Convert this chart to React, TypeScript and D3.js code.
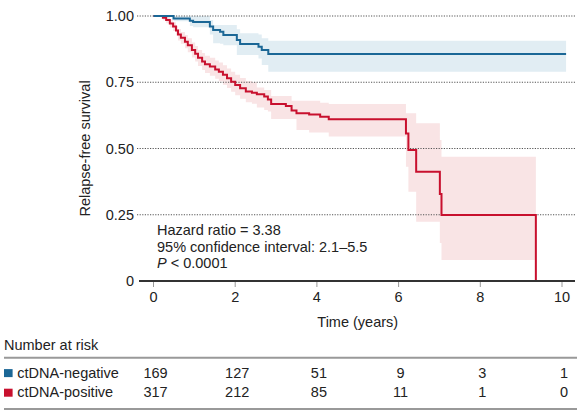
import * as d3 from 'd3';

// ctDNA-negative: step times (years), survival and 95% band
const negTime = [0, 0.49, 0.89, 0.97, 1.38, 1.46, 1.63, 1.71, 2.04, 2.12, 2.57, 2.65, 2.81];
const negSurv = [1, 0.991, 0.982, 0.977, 0.96, 0.947, 0.941, 0.928, 0.909, 0.894, 0.884, 0.872, 0.857];
const negLower = [1, 0.98, 0.962, 0.958, 0.93, 0.897, 0.895, 0.89, 0.853, 0.853, 0.84, 0.815, 0.79];
const negUpper = [1, 1, 1, 1, 0.985, 0.966, 0.966, 0.966, 0.95, 0.935, 0.93, 0.916, 0.907];
const negEnd = 10.1;

// ctDNA-positive
const posTime = [
  0, 0.23, 0.31, 0.4, 0.48, 0.55, 0.6, 0.67, 0.77, 0.84, 0.94, 1.02, 1.09, 1.19, 1.26, 1.38,
  1.51, 1.6, 1.7, 1.8, 1.9, 2.0, 2.12, 2.26, 2.41, 2.53, 2.71, 2.8, 2.88, 3.24, 3.38, 3.5,
  3.81, 4.08, 4.29, 6.18, 6.24, 6.43, 7.01, 7.05,
];
const posSurv = [
  1, 0.993, 0.985, 0.972, 0.96, 0.945, 0.93, 0.918, 0.903, 0.89, 0.872, 0.858, 0.842, 0.828,
  0.818, 0.809, 0.798, 0.79, 0.778, 0.765, 0.752, 0.74, 0.727, 0.715, 0.71, 0.705, 0.696,
  0.685, 0.668, 0.66, 0.643, 0.633, 0.628, 0.62, 0.61, 0.557, 0.494, 0.412, 0.328, 0.249,
];
const posLower = [
  1, 0.984, 0.973, 0.957, 0.943, 0.926, 0.908, 0.895, 0.878, 0.863, 0.843, 0.828, 0.811,
  0.796, 0.785, 0.775, 0.763, 0.754, 0.741, 0.728, 0.714, 0.701, 0.688, 0.675, 0.669, 0.655,
  0.645, 0.64, 0.611, 0.611, 0.611, 0.57, 0.56, 0.56, 0.545, 0.431, 0.337, 0.224, 0.143, 0.079,
];
const posUpper = [
  1, 1, 0.996, 0.986, 0.976, 0.963, 0.951, 0.94, 0.928, 0.916, 0.9, 0.887, 0.872, 0.86, 0.85,
  0.842, 0.832, 0.825, 0.814, 0.802, 0.79, 0.778, 0.766, 0.755, 0.75, 0.73, 0.721, 0.721,
  0.698, 0.698, 0.68, 0.68, 0.68, 0.673, 0.668, 0.633, 0.633, 0.595, 0.532, 0.469,
];
const posEnd = 9.36;

const xTicks = [0, 2, 4, 6, 8, 10];
const yTicks = [0.25, 0.5, 0.75, 1];
const yTickLabels = ['0.25', '0.50', '0.75', '1.00'];

const groups = ['ctDNA-negative', 'ctDNA-positive'];
const negAtRisk = [169, 127, 51, 9, 3, 1];
const posAtRisk = [317, 212, 85, 11, 1, 0];

const BLUE = '#1b6796';
const RED = '#c8102e';
const BLUE_BAND = '#e1edf3';
const RED_BAND = '#f9e4e5';
const FONT = '"Liberation Sans", Arial, Helvetica, sans-serif';

type Pt = { t: number; s: number; lo: number; up: number };

function buildSteps(time: number[], surv: number[], lo: number[], up: number[]): Pt[] {
  return time.map((t, i) => ({ t, s: surv[i], lo: lo[i], up: up[i] }));
}

export default function App() {
  const width = 581;
  const height = 412;

  const x = d3.scaleLinear().domain([0, 10]).range([153.5, 562]);
  const y = d3.scaleLinear().domain([0, 1]).range([281, 16]);

  const neg = buildSteps(negTime, negSurv, negLower, negUpper);
  const pos = buildSteps(posTime, posSurv, posLower, posUpper);
  const negLast = neg[neg.length - 1];
  const posLast = pos[pos.length - 1];

  const negLineData = [...neg, { ...negLast, t: negEnd }];
  const posLineData = [...pos, { ...posLast, t: posEnd, s: 0 }];
  const negBandData = [...neg, { ...negLast, t: negEnd }];
  const posBandData = [...pos, { ...posLast, t: posEnd }];

  const line = d3.line<Pt>()
    .x(d => x(d.t))
    .y(d => y(d.s))
    .curve(d3.curveStepAfter);

  const band = d3.area<Pt>()
    .x(d => x(d.t))
    .y0(d => y(d.lo))
    .y1(d => y(d.up))
    .curve(d3.curveStepAfter);

  const rows = [
    { name: groups[0], color: BLUE, values: negAtRisk },
    { name: groups[1], color: RED, values: posAtRisk },
  ];

  return (
    <svg
      width={width}
      height={height}
      style={{ position: 'absolute', left: 0, top: 0, background: '#fff' }}
      fontFamily={FONT}
    >
      {/* confidence bands */}
      <path d={band(negBandData) || ''} fill={BLUE_BAND} />
      <path d={band(posBandData) || ''} fill={RED_BAND} />

      {/* gridlines */}
      {yTicks.map((v, i) => (
        <g key={v}>
          <line
            x1={137} x2={576} y1={y(v)} y2={y(v)}
            stroke="#555" strokeWidth={1.2} strokeDasharray="1.2,1.4"
          />
          <text x={134} y={y(v) + 5} textAnchor="end" fontSize={14.5} fill="#222">
            {yTickLabels[i]}
          </text>
        </g>
      ))}

      {/* survival curves */}
      <path d={line(posLineData) || ''} fill="none" stroke={RED} strokeWidth={2} />
      <path d={line(negLineData) || ''} fill="none" stroke={BLUE} strokeWidth={2} />

      {/* x axis */}
      <text x={134} y={y(0) + 5} textAnchor="end" fontSize={14.5} fill="#222">0</text>
      {xTicks.map(t => (
        <g key={t}>
          <line x1={x(t)} x2={x(t)} y1={y(0)} y2={y(0) + 6} stroke="#999" strokeWidth={1} />
          <text x={x(t)} y={302} textAnchor="middle" fontSize={14.5} fill="#222">{t}</text>
        </g>
      ))}
      <line x1={139} x2={575} y1={y(0)} y2={y(0)} stroke="#333" strokeWidth={2} />
      <text x={(x(0) + x(10)) / 2} y={327} textAnchor="middle" fontSize={14.5} fill="#222">
        Time (years)
      </text>

      {/* y axis title */}
      <text
        transform={`translate(90,${(y(0) + y(1)) / 2}) rotate(-90)`}
        textAnchor="middle" fontSize={14.5} fill="#222"
      >
        Relapse-free survival
      </text>

      {/* statistics */}
      <g fontSize={14.5} fill="#222">
        <text x={157} y={235}>Hazard ratio = 3.38</text>
        <text x={157} y={251.7}>95% confidence interval: 2.1–5.5</text>
        <text x={157} y={268.4}>
          <tspan fontStyle="italic">P</tspan> &lt; 0.0001
        </text>
      </g>

      {/* number at risk table */}
      <text x={4} y={350} fontSize={14.5} fill="#222">Number at risk</text>
      <line x1={4} x2={577} y1={357.7} y2={357.7} stroke="#999" strokeWidth={2} />
      {rows.map((r, i) => {
        const base = 377.7 + i * 19.6;
        return (
          <g key={r.name}>
            <rect x={4} y={base - 8.6} width={8.6} height={8} fill={r.color} />
            <text x={17.3} y={base} fontSize={14.5} fill="#222">{r.name}</text>
            {r.values.map((v, j) => (
              <text key={j} x={x(xTicks[j]) + 2} y={base} textAnchor="middle" fontSize={14.5} fill="#222">
                {v}
              </text>
            ))}
          </g>
        );
      })}
      <line x1={4} x2={577} y1={409} y2={409} stroke="#999" strokeWidth={2} />
    </svg>
  );
}
